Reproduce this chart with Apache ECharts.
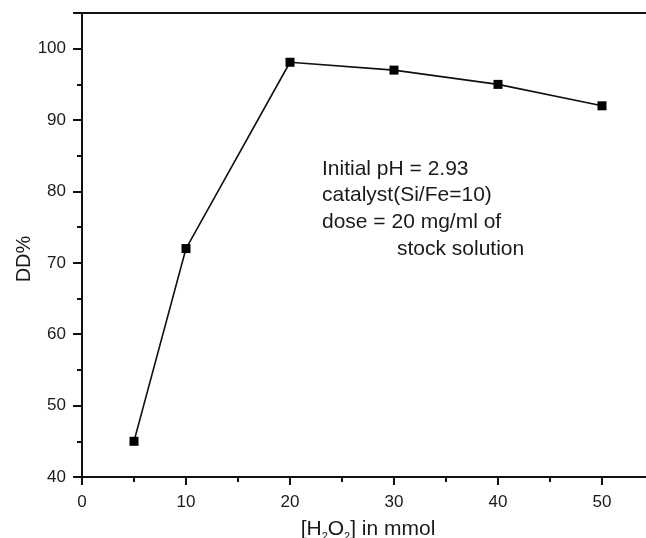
<!DOCTYPE html>
<html>
<head>
<meta charset="utf-8">
<script src="https://cdn.jsdelivr.net/npm/echarts@6/dist/echarts.min.js"></script>
<style>
  html, body { margin: 0; padding: 0; background: #fff; }
  #chart { width: 646px; height: 538px; }
</style>
</head>
<body>
<div id="chart"></div>
<script>
// H2O2 dose (mmol) vs DD%
var h2o2 = [5, 10, 20, 30, 40, 50];
var dd = [45.0, 72.0, 98.1, 97.0, 95.0, 92.0];
var noteLines = ['Initial pH = 2.93', 'catalyst(Si/Fe=10)', 'dose = 20 mg/ml of'];
var noteLast = 'stock solution';

var font = 'Liberation Sans, Arial, sans-serif';
var myChart = echarts.init(document.getElementById('chart'));

var option = {
  animation: false,
  grid: { left: 82, top: 13, right: -8, bottom: 61, containLabel: false, outerBoundsMode: 'none' },
  xAxis: {
    type: 'value',
    min: 0,
    max: 55,
    interval: 10,
    name: '{t|[H}{s|2}{t|O}{s|2}{t|] in mmol}',
    nameLocation: 'middle',
    nameGap: 40,
    nameTextStyle: {
      rich: {
        t: { fontSize: 21, fontFamily: font, color: '#1a1a1a' },
        s: { fontSize: 11, fontFamily: font, color: '#1a1a1a', padding: [14, 0, 0, 0] }
      }
    },
    axisLine: { show: true, onZero: false, lineStyle: { color: '#111', width: 2 } },
    axisTick: { show: true, inside: false, length: 8, lineStyle: { color: '#111', width: 2 } },
    minorTick: { show: true, splitNumber: 2, length: 5, lineStyle: { color: '#111', width: 2 } },
    axisLabel: { showMaxLabel: false, fontSize: 17, fontFamily: font, color: '#1a1a1a', margin: 17 },
    splitLine: { show: false }
  },
  yAxis: {
    type: 'value',
    min: 40,
    max: 105,
    interval: 10,
    axisLine: { show: true, onZero: false, lineStyle: { color: '#111', width: 2 } },
    axisTick: { show: true, inside: false, length: 9, lineStyle: { color: '#111', width: 2 } },
    minorTick: { show: true, splitNumber: 2, length: 5, lineStyle: { color: '#111', width: 2 } },
    axisLabel: { showMaxLabel: false, fontSize: 17, fontFamily: font, color: '#1a1a1a', margin: 16 },
    splitLine: { show: false }
  },
  graphic: [
    // top frame line
    { type: 'line', shape: { x1: 78, y1: 13, x2: 646, y2: 13 }, style: { stroke: '#111', lineWidth: 2 } },
    {
      type: 'text', x: 24, y: 259, rotation: Math.PI / 2,
      style: { text: 'DD%', fontSize: 20, fontFamily: font, fill: '#1a1a1a', align: 'center', verticalAlign: 'middle' }
    },
    {
      type: 'text', left: 322, top: 155.5,
      style: { text: noteLines.join('\n'), fontSize: 21, lineHeight: 26.7, fontFamily: font, fill: '#1a1a1a' }
    },
    {
      type: 'text', left: 397, top: 235.6,
      style: { text: noteLast, fontSize: 21, lineHeight: 26.7, fontFamily: font, fill: '#1a1a1a' }
    }
  ],
  series: [{
    type: 'line',
    data: h2o2.map(function (x, i) { return [x, dd[i]]; }),
    symbol: 'rect',
    symbolSize: 9,
    itemStyle: { color: '#000' },
    lineStyle: { color: '#111', width: 1.6 }
  }]
};

myChart.setOption(option);
</script>
</body>
</html>
